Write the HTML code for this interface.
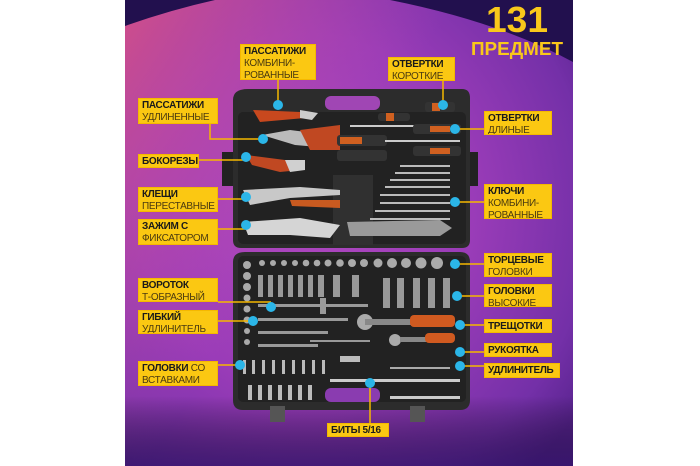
<!DOCTYPE html>
<html><head><meta charset="utf-8"><style>
html,body{margin:0;padding:0;background:#fff;overflow:hidden;width:700px;height:466px;}
body{position:relative;font-family:"Liberation Sans",sans-serif;}
svg{position:absolute;left:0;top:0;}
.lb{position:absolute;background:#fbc812;border:1px solid #f5b800;color:#222;font-size:10px;line-height:12px;padding:1px 3px;box-sizing:border-box;letter-spacing:-0.3px;white-space:nowrap;overflow:hidden;}
.lb b{font-weight:bold;color:#1a1a1a;}
.lb span{color:#4a3a10;}
</style></head><body>
<svg width="700" height="466" viewBox="0 0 700 466">
<defs>
<radialGradient id="bg" cx="0.4" cy="0.45" r="0.75">
<stop offset="0" stop-color="#b048c0"/>
<stop offset="0.5" stop-color="#9a3cb8"/>
<stop offset="0.85" stop-color="#7430a8"/>
<stop offset="1" stop-color="#5a2490"/>
</radialGradient>
<linearGradient id="pk" x1="0" y1="0" x2="1" y2="0.7">
<stop offset="0" stop-color="#d65088" stop-opacity="0.95"/>
<stop offset="0.5" stop-color="#b84cb0" stop-opacity="0"/>
</linearGradient>
<linearGradient id="bt" x1="0" y1="0" x2="0" y2="1">
<stop offset="0.85" stop-color="#000" stop-opacity="0"/>
<stop offset="1" stop-color="#2a1060" stop-opacity="0.7"/>
</linearGradient>
</defs>
<rect x="125" y="0" width="448" height="466" fill="url(#bg)"/>
<rect x="125" y="0" width="448" height="466" fill="url(#pk)"/>
<rect x="125" y="0" width="448" height="466" fill="url(#bt)"/>
<path d="M125 0 H215 Q170 10 125 26Z" fill="#22104e"/>
<path d="M390 0 H573 V62 Q500 22 390 0Z" fill="#22104e"/>
<rect x="222" y="152" width="14" height="34" fill="#222"/>
<rect x="466" y="152" width="12" height="34" fill="#222"/>
<path d="M248 89 H462 Q470 89 470 98 V240 Q470 248 462 248 H241 Q233 248 233 240 V100 Q233 89 248 89Z" fill="#2c2c2c"/>
<rect x="325" y="96" width="55" height="14" rx="6" fill="#a046b4"/>
<rect x="238" y="112" width="228" height="132" rx="5" fill="#222"/>
<rect x="333" y="175" width="40" height="70" fill="#303030"/>
<path d="M253 110 L300 112 L305 118 L260 122Z" fill="#c8481e"/>
<path d="M300 110 L318 113 L312 120 L300 118Z" fill="#ccc"/>
<path d="M262 135 L290 130 L330 135 L330 148 L295 145Z" fill="#bbb"/>
<path d="M300 130 L340 125 L340 150 L310 150Z" fill="#c04822"/>
<path d="M246 155 L285 160 L300 170 L280 172 L252 165Z" fill="#c04822"/>
<path d="M285 160 L305 160 L305 170 L290 172Z" fill="#d0d0d0"/>
<path d="M243 190 L300 187 L340 190 L340 195 L290 198 L250 205Z" fill="#c8c8c8"/>
<path d="M290 200 L340 200 L340 208 L292 206Z" fill="#c85a20"/>
<path d="M243 222 L300 218 L340 225 L330 238 L290 235 L248 235Z" fill="#d5d5d5"/>
<path d="M347 222 L440 220 L452 228 L440 236 L350 236Z" fill="#9a9a9a"/>
<rect x="378" y="113" width="32" height="8" rx="3" fill="#333"/><rect x="386" y="113" width="8" height="8" fill="#d06020"/>
<rect x="425" y="102" width="30" height="10" rx="3" fill="#333"/><rect x="432" y="103" width="8" height="8" fill="#d06020"/>
<rect x="350" y="125" width="85" height="2" fill="#ccc"/>
<rect x="413" y="124" width="48" height="10" rx="3" fill="#333"/><rect x="430" y="126" width="20" height="6" fill="#d06020"/>
<rect x="337" y="135" width="50" height="11" rx="3" fill="#333"/><rect x="340" y="137" width="22" height="7" fill="#d06020"/>
<rect x="385" y="140" width="75" height="2" fill="#ccc"/>
<rect x="413" y="146" width="48" height="10" rx="3" fill="#333"/><rect x="430" y="148" width="20" height="6" fill="#d06020"/>
<rect x="337" y="150" width="50" height="11" rx="3" fill="#333"/>
<g fill="#bbb"><rect x="400" y="165" width="50" height="2"/><rect x="395" y="172" width="55" height="2"/><rect x="390" y="179" width="60" height="2"/><rect x="385" y="186" width="65" height="2"/><rect x="380" y="194" width="70" height="2"/><rect x="380" y="202" width="70" height="2"/><rect x="375" y="210" width="75" height="2"/><rect x="370" y="218" width="80" height="2"/></g>
<path d="M245 252 H460 Q470 252 470 262 V400 Q470 410 460 410 H243 Q233 410 233 400 V262 Q233 252 245 252Z" fill="#2c2c2c"/>
<rect x="238" y="256" width="228" height="146" rx="5" fill="#222"/>
<rect x="325" y="388" width="55" height="14" rx="6" fill="#8a3cb0"/>
<rect x="270" y="406" width="15" height="16" fill="#555"/><rect x="410" y="406" width="15" height="16" fill="#555"/>
<g fill="#aaa">
<circle cx="247" cy="265" r="4"/><circle cx="247" cy="276" r="4"/><circle cx="247" cy="287" r="4"/><circle cx="247" cy="298" r="3.5"/><circle cx="247" cy="309" r="3.5"/><circle cx="247" cy="320" r="3.5"/><circle cx="247" cy="331" r="3"/><circle cx="247" cy="342" r="3"/>
<circle cx="262" cy="263" r="3"/><circle cx="273" cy="263" r="3"/><circle cx="284" cy="263" r="3"/><circle cx="295" cy="263" r="3"/><circle cx="306" cy="263" r="3.3"/><circle cx="317" cy="263" r="3.3"/><circle cx="328" cy="263" r="3.5"/><circle cx="340" cy="263" r="3.8"/><circle cx="352" cy="263" r="4"/><circle cx="364" cy="263" r="4"/><circle cx="378" cy="263" r="4.5"/><circle cx="392" cy="263" r="5"/><circle cx="406" cy="263" r="5"/><circle cx="421" cy="263" r="5.5"/><circle cx="437" cy="263" r="6"/>
</g>
<g fill="#999">
<rect x="258" y="275" width="5" height="22"/><rect x="268" y="275" width="5" height="22"/><rect x="278" y="275" width="5" height="22"/><rect x="288" y="275" width="5" height="22"/><rect x="298" y="275" width="5" height="22"/><rect x="308" y="275" width="5" height="22"/><rect x="318" y="275" width="6" height="22"/><rect x="333" y="275" width="7" height="22"/><rect x="352" y="275" width="7" height="22"/>
<rect x="383" y="278" width="7" height="30"/><rect x="397" y="278" width="7" height="30"/><rect x="413" y="278" width="7" height="30"/><rect x="428" y="278" width="7" height="30"/><rect x="443" y="278" width="7" height="30"/>
<rect x="258" y="304" width="110" height="3"/><rect x="320" y="298" width="6" height="16"/>
<rect x="258" y="318" width="90" height="3"/><rect x="258" y="331" width="70" height="3"/><rect x="258" y="344" width="60" height="3"/>
<rect x="310" y="340" width="60" height="2"/>
</g>
<circle cx="365" cy="322" r="8" fill="#aaa"/><rect x="365" y="319" width="50" height="6" fill="#888"/>
<rect x="410" y="315" width="45" height="12" rx="4" fill="#d05a20"/>
<circle cx="395" cy="340" r="6" fill="#aaa"/><rect x="400" y="337" width="30" height="5" fill="#888"/>
<rect x="425" y="333" width="30" height="10" rx="4" fill="#d05a20"/>
<rect x="340" y="356" width="20" height="6" fill="#bbb"/>
<rect x="390" y="367" width="60" height="2" fill="#aaa"/>
<g fill="#bbb">
<rect x="243" y="360" width="3" height="14"/><rect x="252" y="360" width="3" height="14"/><rect x="262" y="360" width="3" height="14"/><rect x="272" y="360" width="3" height="14"/><rect x="282" y="360" width="3" height="14"/><rect x="292" y="360" width="3" height="14"/><rect x="302" y="360" width="3" height="14"/><rect x="312" y="360" width="3" height="14"/><rect x="322" y="360" width="3" height="14"/>
<rect x="248" y="385" width="4" height="15"/><rect x="258" y="385" width="4" height="15"/><rect x="268" y="385" width="4" height="15"/><rect x="278" y="385" width="4" height="15"/><rect x="288" y="385" width="4" height="15"/><rect x="298" y="385" width="4" height="15"/><rect x="308" y="385" width="4" height="15"/>
</g>
<g fill="#ccc"><rect x="330" y="379" width="130" height="3"/><rect x="390" y="396" width="70" height="3"/></g>
<g stroke="#f5b800" stroke-width="1.5" fill="none">
<path d="M278 80 V105"/><path d="M443 80 V105"/>
<path d="M210 124 V139 H263"/><path d="M455 129 H484"/>
<path d="M198 160 H246"/><path d="M218 199 H246"/><path d="M455 202 H484"/>
<path d="M218 229 H246"/><path d="M455 264 H484"/>
<path d="M218 302 H271"/><path d="M457 296 H484"/>
<path d="M218 321 H253"/><path d="M460 325 H484"/>
<path d="M460 352 H484"/><path d="M460 366 H484"/>
<path d="M218 365 H240"/><path d="M370 383 V423"/>
</g>
<g fill="#2bb6e8">
<circle cx="278" cy="105" r="5"/><circle cx="263" cy="139" r="5"/><circle cx="246" cy="157" r="5"/><circle cx="246" cy="197" r="5"/><circle cx="246" cy="225" r="5"/><circle cx="443" cy="105" r="5"/><circle cx="455" cy="129" r="5"/><circle cx="455" cy="202" r="5"/><circle cx="455" cy="264" r="5"/><circle cx="457" cy="296" r="5"/><circle cx="460" cy="325" r="5"/><circle cx="460" cy="352" r="5"/><circle cx="460" cy="366" r="5"/><circle cx="271" cy="307" r="5"/><circle cx="253" cy="321" r="5"/><circle cx="240" cy="365" r="5"/><circle cx="370" cy="383" r="5"/>
</g>
<text x="517" y="32" text-anchor="middle" font-family="Liberation Sans" font-weight="bold" font-size="36" fill="#f9c81a" textLength="62" lengthAdjust="spacingAndGlyphs">131</text>
<text x="517" y="55" text-anchor="middle" font-family="Liberation Sans" font-weight="bold" font-size="18" fill="#f9c81a" textLength="92" lengthAdjust="spacingAndGlyphs">ПРЕДМЕТ</text>
</svg>
<div class="lb" style="left:240px;top:44px;width:76px;height:36px;"><b>ПАССАТИЖИ</b><br><span>КОМБИНИ-<br>РОВАННЫЕ</span></div>
<div class="lb" style="left:388px;top:57px;width:67px;height:24px;"><b>ОТВЕРТКИ</b><br><span>КОРОТКИЕ</span></div>
<div class="lb" style="left:138px;top:98px;width:80px;height:26px;"><b>ПАССАТИЖИ</b><br><span>УДЛИНЕННЫЕ</span></div>
<div class="lb" style="left:484px;top:111px;width:68px;height:24px;"><b>ОТВЕРТКИ</b><br><span>ДЛИНЫЕ</span></div>
<div class="lb" style="left:138px;top:154px;width:61px;height:14px;"><b>БОКОРЕЗЫ</b></div>
<div class="lb" style="left:138px;top:187px;width:80px;height:25px;"><b>КЛЕЩИ</b><br><span>ПЕРЕСТАВНЫЕ</span></div>
<div class="lb" style="left:484px;top:184px;width:68px;height:35px;"><b>КЛЮЧИ</b><br><span>КОМБИНИ-<br>РОВАННЫЕ</span></div>
<div class="lb" style="left:138px;top:219px;width:80px;height:26px;"><b>ЗАЖИМ С</b><br><span>ФИКСАТОРОМ</span></div>
<div class="lb" style="left:484px;top:253px;width:68px;height:24px;"><b>ТОРЦЕВЫЕ</b><br><span>ГОЛОВКИ</span></div>
<div class="lb" style="left:138px;top:278px;width:80px;height:24px;"><b>ВОРОТОК</b><br><span>Т-ОБРАЗНЫЙ</span></div>
<div class="lb" style="left:484px;top:284px;width:68px;height:23px;"><b>ГОЛОВКИ</b><br><span>ВЫСОКИЕ</span></div>
<div class="lb" style="left:138px;top:310px;width:80px;height:24px;"><b>ГИБКИЙ</b><br><span>УДЛИНИТЕЛЬ</span></div>
<div class="lb" style="left:484px;top:319px;width:68px;height:14px;"><b>ТРЕЩОТКИ</b></div>
<div class="lb" style="left:484px;top:343px;width:68px;height:14px;"><b>РУКОЯТКА</b></div>
<div class="lb" style="left:138px;top:361px;width:80px;height:25px;"><b>ГОЛОВКИ</b> <span>СО<br>ВСТАВКАМИ</span></div>
<div class="lb" style="left:484px;top:363px;width:76px;height:15px;"><b>УДЛИНИТЕЛЬ</b></div>
<div class="lb" style="left:327px;top:423px;width:62px;height:14px;"><b>БИТЫ 5/16</b></div>
</body></html>
